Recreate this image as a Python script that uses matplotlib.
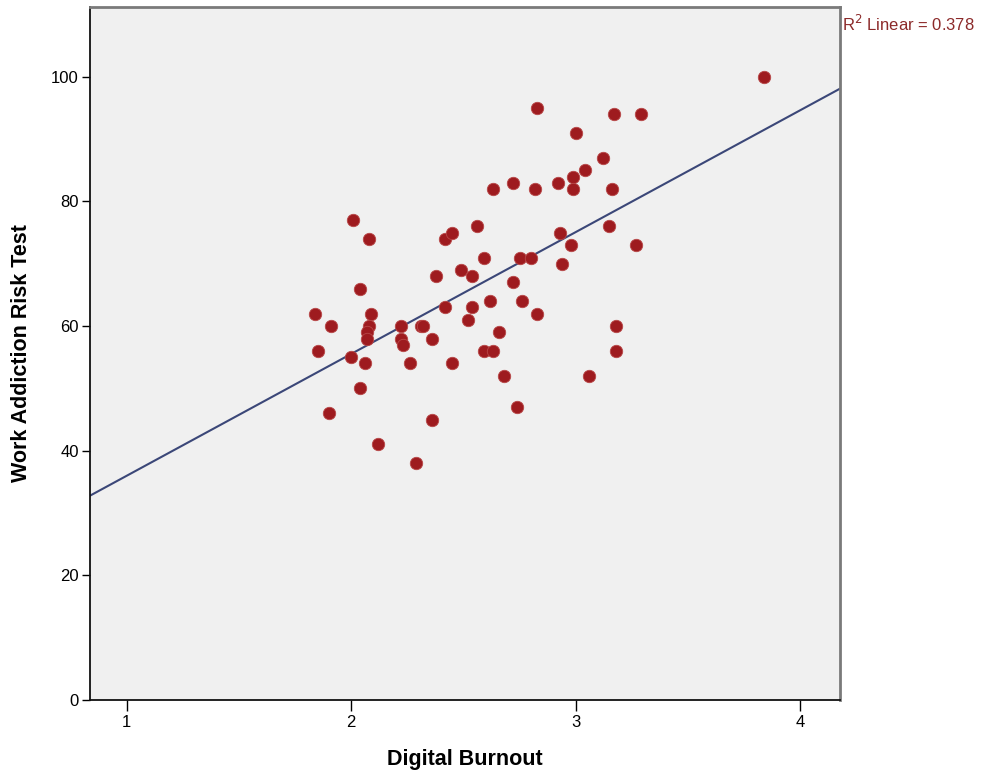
import numpy as np
import matplotlib.pyplot as plt

plt.rcParams['font.family'] = ['Liberation Sans', 'DejaVu Sans']

# Digital Burnout score and Work Addiction Risk Test score per respondent
burnout = [1.84, 1.85, 1.91, 1.90, 2.00, 2.01, 2.04, 2.04, 2.06, 2.08,
           2.09, 2.08, 2.07, 2.07, 2.12, 2.22, 2.22, 2.23, 2.26, 2.29,
           2.31, 2.32, 2.36, 2.36, 2.38, 2.42, 2.42, 2.45, 2.45, 2.49,
           2.54, 2.52, 2.54, 2.56, 2.59, 2.59, 2.63, 2.62, 2.63, 2.66,
           2.68, 2.72, 2.72, 2.74, 2.75, 2.76, 2.80, 2.82, 2.83, 2.83,
           2.92, 2.93, 2.94, 2.98, 2.99, 2.99, 3.00, 3.04, 3.06, 3.12,
           3.15, 3.16, 3.17, 3.18, 3.18, 3.27, 3.29, 3.84]
warts = [62, 56, 60, 46, 55, 77, 66, 50, 54, 74,
         62, 60, 59, 58, 41, 60, 58, 57, 54, 38,
         60, 60, 58, 45, 68, 63, 74, 75, 54, 69,
         68, 61, 63, 76, 71, 56, 56, 64, 82, 59,
         52, 83, 67, 47, 71, 64, 71, 82, 62, 95,
         83, 75, 70, 73, 84, 82, 91, 85, 52, 87,
         76, 82, 94, 60, 56, 73, 94, 100]
r2_label = 0.378

x = np.array(burnout)
y = np.array(warts)
slope, intercept = np.polyfit(x, y, 1)

fig = plt.figure(figsize=(9.81, 7.75), dpi=100)
ax = fig.add_axes([90 / 981, 75 / 775, 750 / 981, 693 / 775])
ax.set_facecolor('#f0f0f0')

xlim = (0.836, 4.178)
ax.set_xlim(xlim)
ax.set_ylim(0, 111.2)

# linear fit across the full x range
xs = np.array(xlim)
ax.plot(xs, intercept + slope * xs, color='#3b4778', lw=1.5, zorder=2)
ax.scatter(x, y, s=80, color='#9e1b1f', edgecolors='#b84848', linewidths=0.6, zorder=3)

ax.set_xticks([1, 2, 3, 4])
ax.set_yticks([0, 20, 40, 60, 80, 100])
ax.tick_params(axis='x', direction='out', length=8, width=1, labelsize=12, pad=3)
ax.tick_params(axis='y', direction='out', length=6, width=1, labelsize=12, pad=2)

for side in ('left', 'bottom'):
    ax.spines[side].set_color('#111111')
    ax.spines[side].set_linewidth(1.3)
for side in ('top', 'right'):
    ax.spines[side].set_color('#7a7a7a')
    ax.spines[side].set_linewidth(2)

ax.set_xlabel('Digital Burnout', fontsize=15.5, fontweight='bold')
ax.set_ylabel('Work Addiction Risk Test', fontsize=15.5, fontweight='bold')
ax.xaxis.set_label_coords((465 - 90) / 750, -(760 - 700) / 693)
ax.xaxis.label.set_va('center')
ax.yaxis.set_label_coords(-(90 - 22) / 750, (700 - 353) / 693)
ax.yaxis.label.set_va('center')

fig.text(842 / 981, 1 - 24 / 775, 'R$^2$ Linear = %.3f' % r2_label,
         color='#8c2a2a', fontsize=12, ha='left', va='center')

fig.savefig('out.png', dpi=100)
